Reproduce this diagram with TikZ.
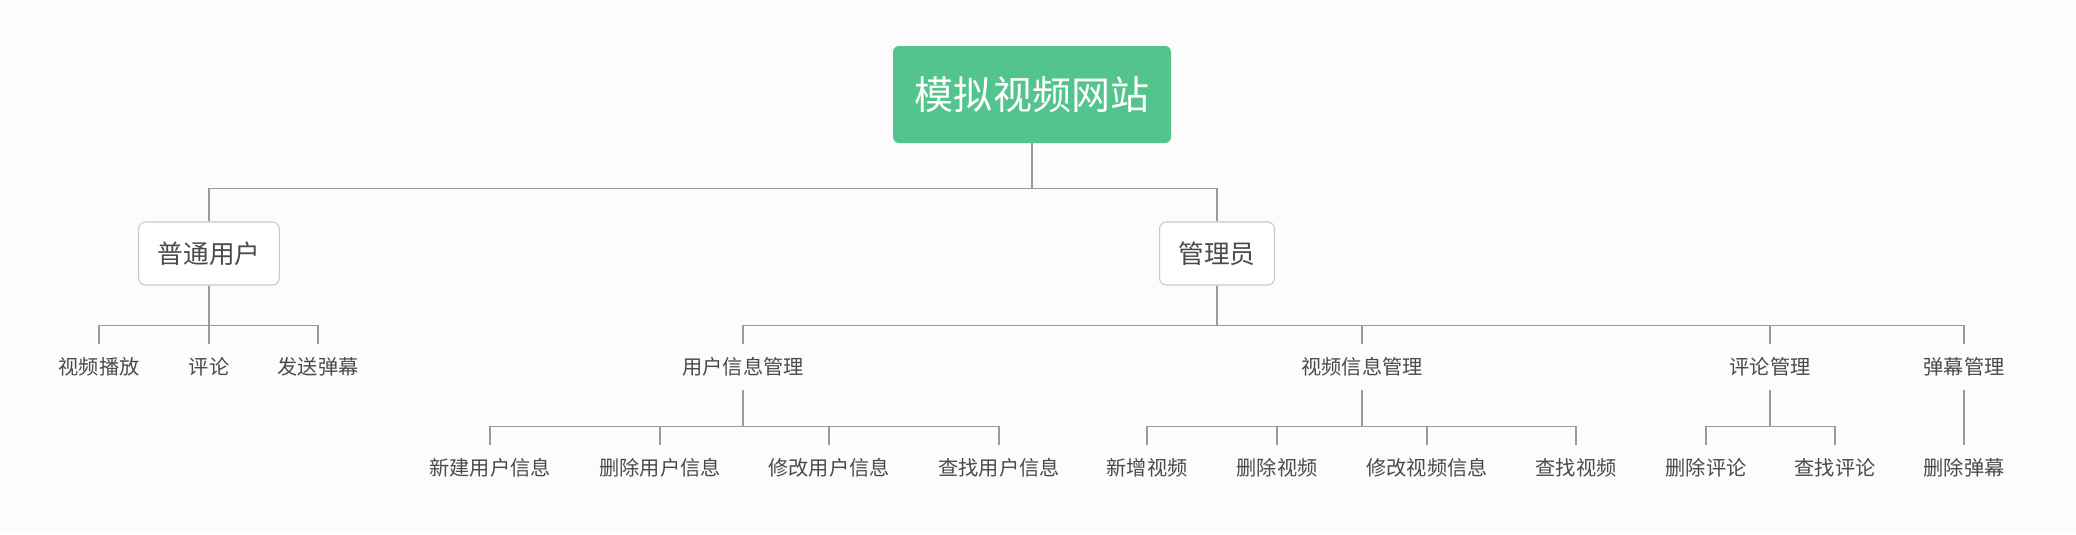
\documentclass[tikz,border=0pt]{standalone}
\usepackage{fontspec}
\setmainfont{Noto Sans CJK SC}
\usepackage{xcolor}
\usetikzlibrary{positioning}

\definecolor{rootgreen}{HTML}{52C48C}
\definecolor{boxline}{HTML}{C8C8C8}
\definecolor{linkgray}{HTML}{9A9A9A}
\definecolor{textgray}{HTML}{4A4A4A}
\definecolor{paper}{HTML}{FCFCFC}

\tikzset{
  rootbox/.style={rectangle,rounded corners=0.12cm,fill=rootgreen,text=white,
    minimum width=5.56cm,minimum height=1.94cm,font=\fontsize{22.2}{24}\selectfont},
  rolebox/.style={draw=boxline,line width=0.6pt,rectangle,rounded corners=0.14cm,fill=white,
    text=textgray,minimum height=1.26cm,inner xsep=0.38cm,font=\fontsize{14.6}{16}\selectfont},
  leaf/.style={text=textgray,minimum height=0.92cm,inner sep=0pt,font=\fontsize{11.5}{13}\selectfont},
  link/.style={draw=linkgray,line width=0.9pt}
}

\begin{document}
\begin{tikzpicture}
  \fill[paper] (0,0) rectangle (41.52,-10.68);
  \useasboundingbox (0,0) rectangle (41.52,-10.68);

  % top levels
  \node[rootbox] (root) at (20.64,-1.89) {模拟视频网站};
  \node[rolebox] (user) at (4.18,-5.07) {普通用户};
  \node[rolebox] (admin) at (24.34,-5.07) {管理员};

  % user side
  \node[leaf] (play) at (1.98,-7.34) {视频播放};
  \node[leaf] (comment) at (4.18,-7.34) {评论};
  \node[leaf] (danmu) at (6.36,-7.34) {发送弹幕};

  % admin side
  \node[leaf] (usermgr) at (14.86,-7.34) {用户信息管理};
  \node[leaf] (videomgr) at (27.24,-7.34) {视频信息管理};
  \node[leaf] (commentmgr) at (35.40,-7.34) {评论管理};
  \node[leaf] (danmumgr) at (39.28,-7.34) {弹幕管理};

  \node[leaf] (newuser) at (9.80,-9.36) {新建用户信息};
  \node[leaf] (deluser) at (13.20,-9.36) {删除用户信息};
  \node[leaf] (edituser) at (16.58,-9.36) {修改用户信息};
  \node[leaf] (finduser) at (19.98,-9.36) {查找用户信息};

  \node[leaf] (newvideo) at (22.94,-9.36) {新增视频};
  \node[leaf] (delvideo) at (25.54,-9.36) {删除视频};
  \node[leaf] (editvideo) at (28.54,-9.36) {修改视频信息};
  \node[leaf] (findvideo) at (31.52,-9.36) {查找视频};

  \node[leaf] (delcomment) at (34.12,-9.36) {删除评论};
  \node[leaf] (findcomment) at (36.70,-9.36) {查找评论};
  \node[leaf] (deldanmu) at (39.28,-9.36) {删除弹幕};

  % connectors
  \foreach \kid in {user,admin}
    \draw[link] (root.south) -- ++(0,-0.9) -| (\kid.north);
  \foreach \kid in {play,comment,danmu}
    \draw[link] (user.south) -- ++(0,-0.8) -| (\kid.north);
  \foreach \kid in {usermgr,videomgr,commentmgr,danmumgr}
    \draw[link] (admin.south) -- ++(0,-0.8) -| (\kid.north);
  \foreach \kid in {newuser,deluser,edituser,finduser}
    \draw[link] (usermgr.south) -- ++(0,-0.72) -| (\kid.north);
  \foreach \kid in {newvideo,delvideo,editvideo,findvideo}
    \draw[link] (videomgr.south) -- ++(0,-0.72) -| (\kid.north);
  \foreach \kid in {delcomment,findcomment}
    \draw[link] (commentmgr.south) -- ++(0,-0.72) -| (\kid.north);
  \draw[link] (danmumgr.south) -- (deldanmu.north);
\end{tikzpicture}
\end{document}
